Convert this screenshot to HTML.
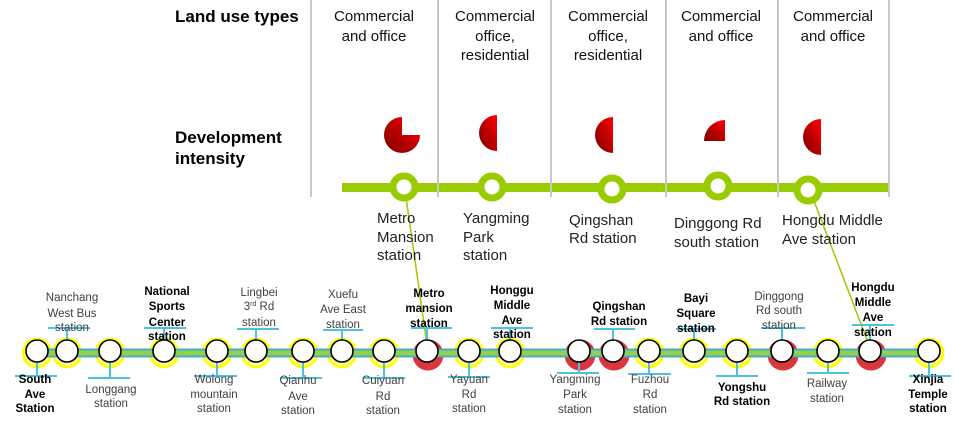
<!DOCTYPE html>
<html><head><meta charset="utf-8"><style>
html,body{margin:0;padding:0;background:#fff;}
svg{display:block;}
text{font-family:"Liberation Sans",Arial,sans-serif;}
.h{font-size:15px;fill:#111;text-anchor:middle;}
.tl{font-size:15px;fill:#222;}
.b{font-size:17px;font-weight:bold;fill:#000;}
.n{font-size:11.5px;fill:#404040;text-anchor:middle;}
.k{font-size:11.5px;font-weight:bold;fill:#000;text-anchor:middle;}
</style></head><body>
<svg width="963" height="426" viewBox="0 0 963 426" xmlns="http://www.w3.org/2000/svg">
<defs>
<linearGradient id="rg" x1="1" y1="0" x2="0" y2="1">
<stop offset="0" stop-color="#ff0000"/><stop offset="1" stop-color="#7a0000"/>
</linearGradient>
</defs>

<!-- Top headers -->
<text class="b" x="175" y="22">Land use types</text>
<text class="b" x="175" y="143">Development</text>
<text class="b" x="175" y="164">intensity</text>

<text class="h" x="374" y="21">Commercial</text>
<text class="h" x="374" y="41">and office</text>
<text class="h" x="495" y="21">Commercial</text>
<text class="h" x="495" y="41">office,</text>
<text class="h" x="495" y="60">residential</text>
<text class="h" x="608" y="21">Commercial</text>
<text class="h" x="608" y="41">office,</text>
<text class="h" x="608" y="60">residential</text>
<text class="h" x="721" y="21">Commercial</text>
<text class="h" x="721" y="41">and office</text>
<text class="h" x="833" y="21">Commercial</text>
<text class="h" x="833" y="41">and office</text>

<!-- pies -->
<path d="M402,135 L402,117 A18,18 0 1,0 420,135 Z" fill="url(#rg)"/>
<path d="M497,115 A18,18 0 0,0 497,151 Z" fill="url(#rg)"/>
<path d="M613,117 A18,18 0 0,0 613,153 Z" fill="url(#rg)"/>
<path d="M725,141 L725,120 A21,21 0 0,0 704,141 Z" fill="url(#rg)"/>
<path d="M821,119 A18,18 0 0,0 821,155 Z" fill="url(#rg)"/>

<!-- top green line -->
<line x1="342" y1="187.5" x2="889" y2="187.5" stroke="#99cc00" stroke-width="9"/>
<!-- grey separators -->
<g stroke="#c8c8c8" stroke-width="2">
<line x1="311" y1="0" x2="311" y2="197"/>
<line x1="438" y1="0" x2="438" y2="197"/>
<line x1="551" y1="0" x2="551" y2="197"/>
<line x1="666" y1="0" x2="666" y2="197"/>
<line x1="778" y1="0" x2="778" y2="197"/>
<line x1="889" y1="0" x2="889" y2="197"/>
</g>
<!-- connectors -->
<line x1="405" y1="190" x2="427" y2="345" stroke="#99cc00" stroke-width="1.5"/>
<line x1="811" y1="193" x2="869" y2="345" stroke="#99cc00" stroke-width="1.5"/>
<!-- top circles -->
<g fill="#fff" stroke="#99cc00" stroke-width="7">
<circle cx="404" cy="187" r="11"/>
<circle cx="492" cy="187" r="11"/>
<circle cx="612" cy="189" r="11"/>
<circle cx="718" cy="186" r="11"/>
<circle cx="808" cy="190" r="11"/>
</g>
<!-- top station labels -->
<text class="tl" x="377" y="223">Metro</text>
<text class="tl" x="377" y="242">Mansion</text>
<text class="tl" x="377" y="260">station</text>
<text class="tl" x="463" y="223">Yangming</text>
<text class="tl" x="463" y="242">Park</text>
<text class="tl" x="463" y="260">station</text>
<text class="tl" x="569" y="225">Qingshan</text>
<text class="tl" x="569" y="243">Rd station</text>
<text class="tl" x="674" y="228">Dinggong Rd</text>
<text class="tl" x="674" y="247">south station</text>
<text class="tl" x="782" y="225">Hongdu Middle</text>
<text class="tl" x="782" y="244">Ave station</text>

<!-- bottom halos -->
<g fill="#ffff99" stroke="#ffff00" stroke-width="2.5">
<circle cx="37" cy="353" r="14"/>
<circle cx="67" cy="353" r="14"/>
<circle cx="110" cy="353" r="14"/>
<circle cx="164" cy="353" r="14"/>
<circle cx="217" cy="353" r="14"/>
<circle cx="256" cy="353" r="14"/>
<circle cx="303" cy="353" r="14"/>
<circle cx="342" cy="353" r="14"/>
<circle cx="384" cy="353" r="14"/>
<circle cx="469" cy="353" r="14"/>
<circle cx="510" cy="353" r="14"/>
<circle cx="649" cy="353" r="14"/>
<circle cx="694" cy="353" r="14"/>
<circle cx="737" cy="353" r="14"/>
<circle cx="828" cy="353" r="14"/>
<circle cx="929" cy="353" r="14"/>
</g>
<g fill="#d9363e">
<circle cx="428" cy="355" r="15.5"/>
<circle cx="580" cy="355" r="15.5"/>
<circle cx="614" cy="355" r="15.5"/>
<circle cx="783" cy="355" r="15.5"/>
<circle cx="871" cy="355" r="15.5"/>
</g>
<!-- band -->
<rect x="28" y="348.5" width="905" height="9" fill="#4bacc6"/>
<rect x="28" y="350.5" width="905" height="5" fill="#92d050"/>

<!-- ticks -->
<g stroke="#4fc1e0" stroke-width="2">
<line x1="67" y1="328" x2="67" y2="351"/><line x1="48" y1="328" x2="90" y2="328"/>
<line x1="164" y1="328" x2="164" y2="351"/><line x1="144" y1="328" x2="186" y2="328"/>
<line x1="256" y1="329" x2="256" y2="351"/><line x1="237" y1="329" x2="279" y2="329"/>
<line x1="342" y1="330" x2="342" y2="351"/><line x1="323" y1="330" x2="363" y2="330"/>
<line x1="427" y1="328" x2="427" y2="351"/><line x1="411" y1="328" x2="452" y2="328"/>
<line x1="510" y1="328" x2="510" y2="351"/><line x1="491" y1="328" x2="533" y2="328"/>
<line x1="613" y1="329" x2="613" y2="351"/><line x1="594" y1="329" x2="635" y2="329"/>
<line x1="694" y1="329" x2="694" y2="351"/><line x1="676" y1="329" x2="716" y2="329"/>
<line x1="782" y1="328" x2="782" y2="351"/><line x1="761" y1="328" x2="805" y2="328"/>
<line x1="870" y1="325" x2="870" y2="351"/><line x1="852" y1="325" x2="894" y2="325"/>

<line x1="37" y1="351" x2="37" y2="376"/><line x1="15" y1="376" x2="57" y2="376"/>
<line x1="110" y1="351" x2="110" y2="378"/><line x1="88" y1="378" x2="130" y2="378"/>
<line x1="217" y1="351" x2="217" y2="376"/><line x1="194" y1="376" x2="237" y2="376"/>
<line x1="303" y1="351" x2="303" y2="378"/><line x1="280" y1="378" x2="322" y2="378"/>
<line x1="384" y1="351" x2="384" y2="378"/><line x1="363" y1="378" x2="405" y2="378"/>
<line x1="469" y1="351" x2="469" y2="377"/><line x1="448" y1="377" x2="490" y2="377"/>
<line x1="579" y1="351" x2="579" y2="373"/><line x1="557" y1="373" x2="599" y2="373"/>
<line x1="649" y1="351" x2="649" y2="374"/><line x1="628" y1="374" x2="671" y2="374"/>
<line x1="737" y1="351" x2="737" y2="376"/><line x1="716" y1="376" x2="758" y2="376"/>
<line x1="828" y1="351" x2="828" y2="373"/><line x1="807" y1="373" x2="849" y2="373"/>
<line x1="929" y1="351" x2="929" y2="376"/><line x1="909" y1="376" x2="951" y2="376"/>
</g>

<!-- bottom circles -->
<g fill="#fff" stroke="#000" stroke-width="1.6">
<circle cx="37" cy="351" r="11"/>
<circle cx="67" cy="351" r="11"/>
<circle cx="110" cy="351" r="11"/>
<circle cx="164" cy="351" r="11"/>
<circle cx="217" cy="351" r="11"/>
<circle cx="256" cy="351" r="11"/>
<circle cx="303" cy="351" r="11"/>
<circle cx="342" cy="351" r="11"/>
<circle cx="384" cy="351" r="11"/>
<circle cx="427" cy="351" r="11"/>
<circle cx="469" cy="351" r="11"/>
<circle cx="510" cy="351" r="11"/>
<circle cx="579" cy="351" r="11"/>
<circle cx="613" cy="351" r="11"/>
<circle cx="649" cy="351" r="11"/>
<circle cx="694" cy="351" r="11"/>
<circle cx="737" cy="351" r="11"/>
<circle cx="782" cy="351" r="11"/>
<circle cx="828" cy="351" r="11"/>
<circle cx="870" cy="351" r="11"/>
<circle cx="929" cy="351" r="11"/>
</g>

<!-- bottom labels -->
<text class="k" x="35" y="383">South</text><text class="k" x="35" y="398">Ave</text><text class="k" x="35" y="412">Station</text>
<text class="n" x="72" y="301">Nanchang</text><text class="n" x="72" y="317">West Bus</text><text class="n" x="72" y="331">station</text>
<text class="n" x="111" y="393">Longgang</text><text class="n" x="111" y="407">station</text>
<text class="k" x="167" y="295">National</text><text class="k" x="167" y="310">Sports</text><text class="k" x="167" y="326">Center</text><text class="k" x="167" y="340">station</text>
<text class="n" x="214" y="383">Wolong</text><text class="n" x="214" y="398">mountain</text><text class="n" x="214" y="412">station</text>
<text class="n" x="259" y="296">Lingbei</text><text class="n" x="259" y="310">3<tspan font-size="7" dy="-4">rd</tspan><tspan dy="4"> Rd</tspan></text><text class="n" x="259" y="326">station</text>
<text class="n" x="298" y="384">Qianhu</text><text class="n" x="298" y="400">Ave</text><text class="n" x="298" y="414">station</text>
<text class="n" x="343" y="298">Xuefu</text><text class="n" x="343" y="313">Ave East</text><text class="n" x="343" y="328">station</text>
<text class="n" x="383" y="384">Cuiyuan</text><text class="n" x="383" y="400">Rd</text><text class="n" x="383" y="414">station</text>
<text class="k" x="429" y="297">Metro</text><text class="k" x="429" y="312">mansion</text><text class="k" x="429" y="327">station</text>
<text class="n" x="469" y="383">Yayuan</text><text class="n" x="469" y="398">Rd</text><text class="n" x="469" y="412">station</text>
<text class="k" x="512" y="294">Honggu</text><text class="k" x="512" y="309">Middle</text><text class="k" x="512" y="324">Ave</text><text class="k" x="512" y="338">station</text>
<text class="n" x="575" y="383">Yangming</text><text class="n" x="575" y="398">Park</text><text class="n" x="575" y="413">station</text>
<text class="k" x="619" y="310">Qingshan</text><text class="k" x="619" y="325">Rd station</text>
<text class="n" x="650" y="383">Fuzhou</text><text class="n" x="650" y="398">Rd</text><text class="n" x="650" y="413">station</text>
<text class="k" x="696" y="302">Bayi</text><text class="k" x="696" y="317">Square</text><text class="k" x="696" y="332">station</text>
<text class="n" x="779" y="300">Dinggong</text><text class="n" x="779" y="314">Rd south</text><text class="n" x="779" y="329">station</text>
<text class="k" x="742" y="391">Yongshu</text><text class="k" x="742" y="405">Rd station</text>
<text class="n" x="827" y="387">Railway</text><text class="n" x="827" y="402">station</text>
<text class="k" x="873" y="291">Hongdu</text><text class="k" x="873" y="306">Middle</text><text class="k" x="873" y="321">Ave</text><text class="k" x="873" y="336">station</text>
<text class="k" x="928" y="383">Xinjia</text><text class="k" x="928" y="398">Temple</text><text class="k" x="928" y="412">station</text>
</svg>
</body></html>
